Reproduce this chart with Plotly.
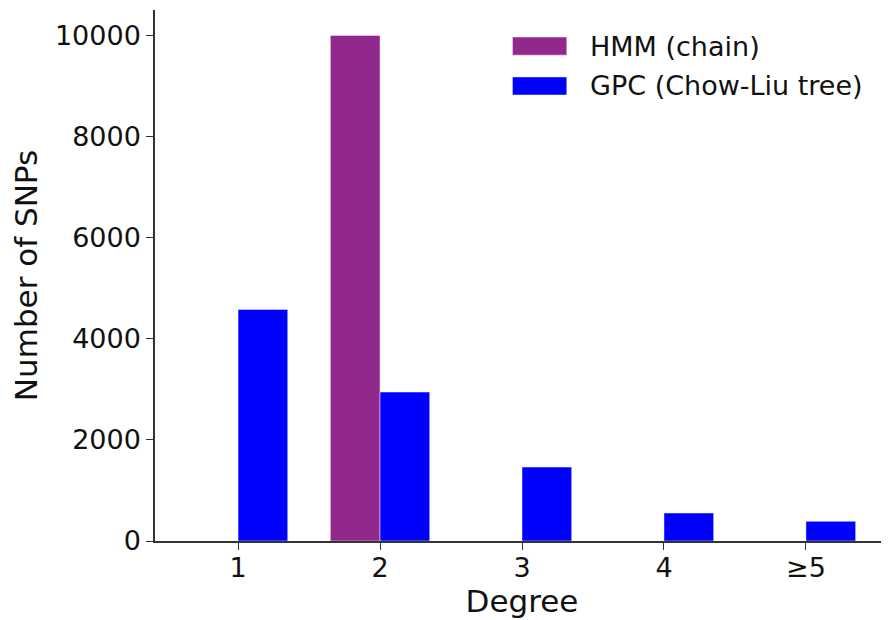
import plotly.graph_objects as go

categories = ["1", "2", "3", "4", "≥5"]
hmm_values = [2, 9998, 0, 0, 0]
gpc_values = [4580, 2945, 1462, 553, 389]
y_ticks = [0, 2000, 4000, 6000, 8000, 10000]
series_names = ["HMM (chain)", "GPC (Chow-Liu tree)"]
series_colors = ["#91298d", "#0000ff"]

FONT = "DejaVu Sans"

fig = go.Figure()
for name, vals, col in zip(series_names, [hmm_values, gpc_values], series_colors):
    fig.add_trace(go.Bar(
        x=categories, y=vals, name=name,
        marker=dict(color=col, line=dict(color="rgba(255,255,255,0.45)", width=1)),
        showlegend=False,
    ))

# manual legend (matplotlib-style wide patches)
leg_x0, leg_x1 = 0.487, 0.561
leg_rows = [0.932, 0.857]
for (name, col, yc) in zip(series_names, series_colors, leg_rows):
    fig.add_shape(type="rect", xref="paper", yref="paper",
                  x0=leg_x0, x1=leg_x1, y0=yc - 0.017, y1=yc + 0.017,
                  fillcolor=col, line=dict(color="rgba(255,255,255,0.45)", width=1))
    fig.add_annotation(x=0.59, y=yc, xref="paper", yref="paper", text=name,
                       showarrow=False, xanchor="left", yanchor="middle",
                       font=dict(family=FONT, size=27, color="#111"))

fig.update_layout(
    width=889, height=620,
    margin=dict(l=147, r=8, t=2, b=87, autoexpand=False),
    paper_bgcolor="white", plot_bgcolor="white",
    barmode="group", bargap=0.3, bargroupgap=0,
    font=dict(family=FONT, size=27, color="#111"),
)
fig.update_xaxes(
    type="category", range=[-0.585, 4.585],
    showline=True, linecolor="#333", linewidth=1.5,
    ticks="outside", ticklen=7, tickwidth=1.3, tickcolor="#333",
    ticklabelstandoff=-5,
    showgrid=False, zeroline=False,
    tickfont=dict(family=FONT, size=27, color="#111"),
    title=dict(text="Degree", font=dict(family=FONT, size=31, color="#111"), standoff=0),
)
fig.update_yaxes(
    range=[0, 10500], tickvals=y_ticks, ticktext=[str(v) for v in y_ticks],
    showline=True, linecolor="#333", linewidth=1.5,
    ticks="outside", ticklen=7, tickwidth=1.3, tickcolor="#333",
    showgrid=False, zeroline=False,
    tickfont=dict(family=FONT, size=27, color="#111"),
    title=dict(text="Number of SNPs", font=dict(family=FONT, size=31, color="#111"), standoff=11),
)

fig.write_html("out.html")
